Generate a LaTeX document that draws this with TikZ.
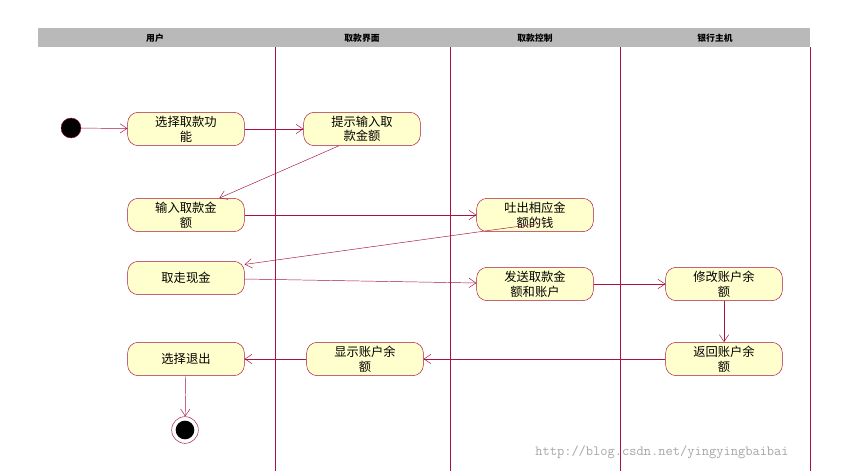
\documentclass[tikz,border=0pt]{standalone}
\usepackage{fontspec}
\setmainfont{Noto Sans CJK SC}
\usetikzlibrary{positioning, arrows.meta}
\definecolor{umlred}{RGB}{168,20,64}
\definecolor{umlfill}{RGB}{255,255,206}

\tikzset{
    act/.style={draw=umlred, fill=umlfill, rounded corners=9pt, minimum width=3.5cm, minimum height=1cm, align=center, font=\fontsize{10.5}{12.5}\selectfont, inner sep=1pt},
    flow/.style={draw=umlred, -{Straight Barb[length=6pt,width=8pt]}},
    lane/.style={draw=umlred, thin},
    head/.style={font=\fontsize{7.5}{8}\selectfont\bfseries}
}

\begin{document}
\begin{tikzpicture}[x=0.03cm, y=-0.03cm]
    \useasboundingbox (0,0) rectangle (849,471);

    % Header bar and swim lanes
    \fill[gray!55] (38,28) rectangle (810,47);
    \foreach \x in {275,450,620,810}
        \draw[lane] (\x,47) -- (\x,471);
    \node[head] (h1) at (155,38) {用户};
    \node[head] (h2) at (362,38) {取款界面};
    \node[head] (h3) at (535,38) {取款控制};
    \node[head] (h4) at (715,38) {银行主机};

    % Start and end
    \node[circle, fill=black, draw=umlred, minimum size=0.6cm, inner sep=0pt] (start) at (71,128) {};
    \node[circle, draw=umlred, fill=white, minimum size=0.8cm, inner sep=0pt] (stop) at (185,430) {};
    \fill[black] (stop) circle (0.28cm);

    % Activities
    \node[act] (choose) at (186,129) {选择取款功\\能};
    \node[act] (prompt) at (362,129) {提示输入取\\款金额};
    \node[act] (input) at (186,215) {输入取款金\\额};
    \node[act] (dispense) at (535,215) {吐出相应金\\额的钱};
    \node[act] (take) at (186,278) {取走现金};
    \node[act] (send) at (535,284) {发送取款金\\额和账户};
    \node[act] (modify) at (724,284) {修改账户余\\额};
    \node[act] (show) at (365,359) {显示账户余\\额};
    \node[act] (back) at (724,359) {返回账户余\\额};
    \node[act] (quit) at (186,359) {选择退出};

    % Flows
    \draw[flow] (start) -- (choose);
    \draw[flow] (choose) -- (prompt);
    \draw[flow] ([xshift=-0.7cm]prompt.south) -- ([xshift=1cm]input.north);
    \draw[flow] (input) -- (dispense);
    \draw[flow] ([xshift=-1.6cm,yshift=-0.25cm]dispense.east) -- ([yshift=-0.1cm]take.north east);
    \draw[flow] (take) -- (send);
    \draw[flow] (send) -- (modify);
    \draw[flow] (modify) -- (back);
    \draw[flow] (back) -- (show);
    \draw[flow] (show) -- (quit);
    \draw[flow] (quit) -- (stop);

    % Watermark
    \node[gray!70, font=\ttfamily\fontsize{12}{14}\selectfont] (mark) at (662,452) {http://blog.csdn.net/yingyingbaibai};
\end{tikzpicture}
\end{document}
